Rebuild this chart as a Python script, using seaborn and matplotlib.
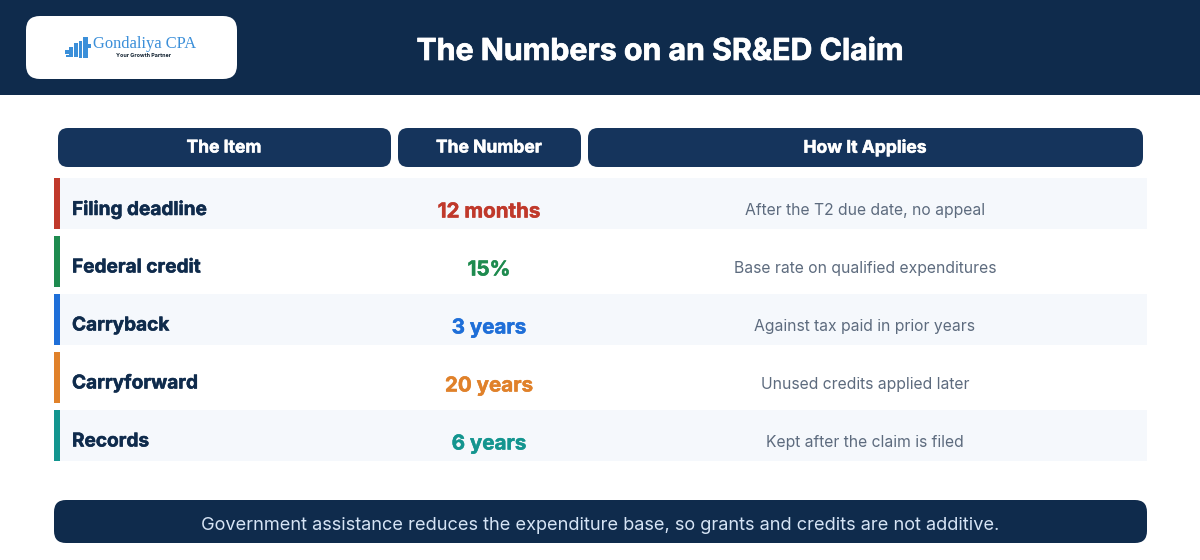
import matplotlib
matplotlib.use('Agg')
import matplotlib.pyplot as plt
import matplotlib.patheffects as pe
from matplotlib.patches import FancyBboxPatch, Rectangle
import pandas as pd
import seaborn as sns

# table content
title = 'The Numbers on an SR&ED Claim'
headers = ['The Item', 'The Number', 'How It Applies']
items = ['Filing deadline', 'Federal credit', 'Carryback', 'Carryforward', 'Records']
numbers = ['12 months', '15%', '3 years', '20 years', '6 years']
notes = ['After the T2 due date, no appeal', 'Base rate on qualified expenditures',
         'Against tax paid in prior years', 'Unused credits applied later', 'Kept after the claim is filed']
accents = ['#c0392b', '#1e8b4f', '#1f6fd8', '#e0812a', '#13958f']
footer = 'Government assistance reduces the expenditure base, so grants and credits are not additive.'

NAVY = '#0f2b4c'
PILL = '#15345c'
INK = '#0f2b4c'
NOTE = '#5d6b7e'

sns.set_theme(style='white')
plt.rcParams['font.family'] = ['Inter', 'DejaVu Sans']

fig = plt.figure(figsize=(12, 5.6), dpi=100, facecolor='white')

# rows, one seaborn bar layer for the stripes and one for the coloured edge
table = fig.add_axes([53.8 / 1200, 1 - 464 / 560, 1093.2 / 1200, 290 / 560], zorder=2)
table.patch.set_alpha(0)
rows = pd.DataFrame({'item': items, 'span': [1] * len(items), 'edge': [6 / 1093] * len(items)})
stripe = ['#f5f8fc', 'white', '#f5f8fc', 'white', '#f5f8fc']
sns.barplot(data=rows, y='item', x='span', hue='item', palette=stripe, legend=False,
            width=51 / 58, saturation=1, linewidth=0, ax=table)
sns.barplot(data=rows, y='item', x='edge', hue='item', palette=accents, legend=False,
            width=51 / 58, saturation=1, linewidth=0, ax=table)
table.set_xlim(0, 1)
table.set_ylim(4.5, -0.5)
table.axis('off')

# page axes works in pixels, same as the reference
page = fig.add_axes([0, 0, 1, 1], zorder=3)
page.patch.set_alpha(0)
page.set_xlim(0, 1200)
page.set_ylim(560, 0)
page.axis('off')


def pill(x0, y0, x1, y1, r, color):
    page.add_patch(FancyBboxPatch((x0 + r, y0 + r), x1 - x0 - 2 * r, y1 - y0 - 2 * r,
                                  boxstyle=f'round,pad={r},rounding_size={r}',
                                  fc=color, ec='none'))


def heavy(color, w=0.35):
    # the reference face is heavier than Inter Bold
    return [pe.withStroke(linewidth=w, foreground=color)]


# top band and logo
page.add_patch(Rectangle((0, 0), 1200, 95, fc=NAVY, ec='none'))
pill(26, 16, 237, 79, 14, 'white')
logo_blocks = [(65, 50, 4, 4), (69, 47, 4, 10), (74, 43, 4, 14), (79, 41, 3, 17), (83, 37, 5, 21),
               (87, 44, 4, 4), (66, 55, 3, 2)]
for bx, by, bw, bh in logo_blocks:
    page.add_patch(Rectangle((bx, by), bw, bh, fc='#3b8fd9', ec='none'))
page.text(93, 44, 'Gondaliya CPA', family='Liberation Serif', fontsize=11.9, color='#3b8fd9',
          ha='left', va='center')
page.text(144, 55.5, 'Your Growth Partner', fontsize=3.9, fontweight='bold', color='#10202f',
          ha='center', va='center')
page.text(660, 52, title, fontsize=21.8, fontweight='bold', color='white', ha='center', va='center',
          path_effects=heavy('white', 0.5))

# column headers
header_spans = [(58, 391), (398, 581), (588, 1143)]
for label, (x0, x1) in zip(headers, header_spans):
    pill(x0, 128, x1, 167, 10, PILL)
    page.text((x0 + x1) / 2 - 0.5, 146, label, fontsize=12.6, fontweight='bold', color='white',
              ha='center', va='center_baseline', path_effects=heavy('white'))

for i in range(len(items)):
    y = 207.5 + 58 * i
    page.text(72, y, items[i], fontsize=13.7, fontweight='bold', color=INK, ha='left',
              va='center_baseline', path_effects=heavy(INK))
    page.text(489, y + 3, numbers[i], fontsize=14.8, fontweight='bold', color=accents[i],
              ha='center', va='center_baseline', path_effects=heavy(accents[i]))
    page.text(865, y + 1, notes[i], fontsize=11.3, color=NOTE, ha='center', va='center_baseline')

# bottom note
pill(54, 500, 1147, 543, 12, NAVY)
page.text(600, 523, footer, fontsize=13.1, color='#d6e4f5', ha='center', va='center_baseline')

fig.savefig('out.png', dpi=100, facecolor='white')
